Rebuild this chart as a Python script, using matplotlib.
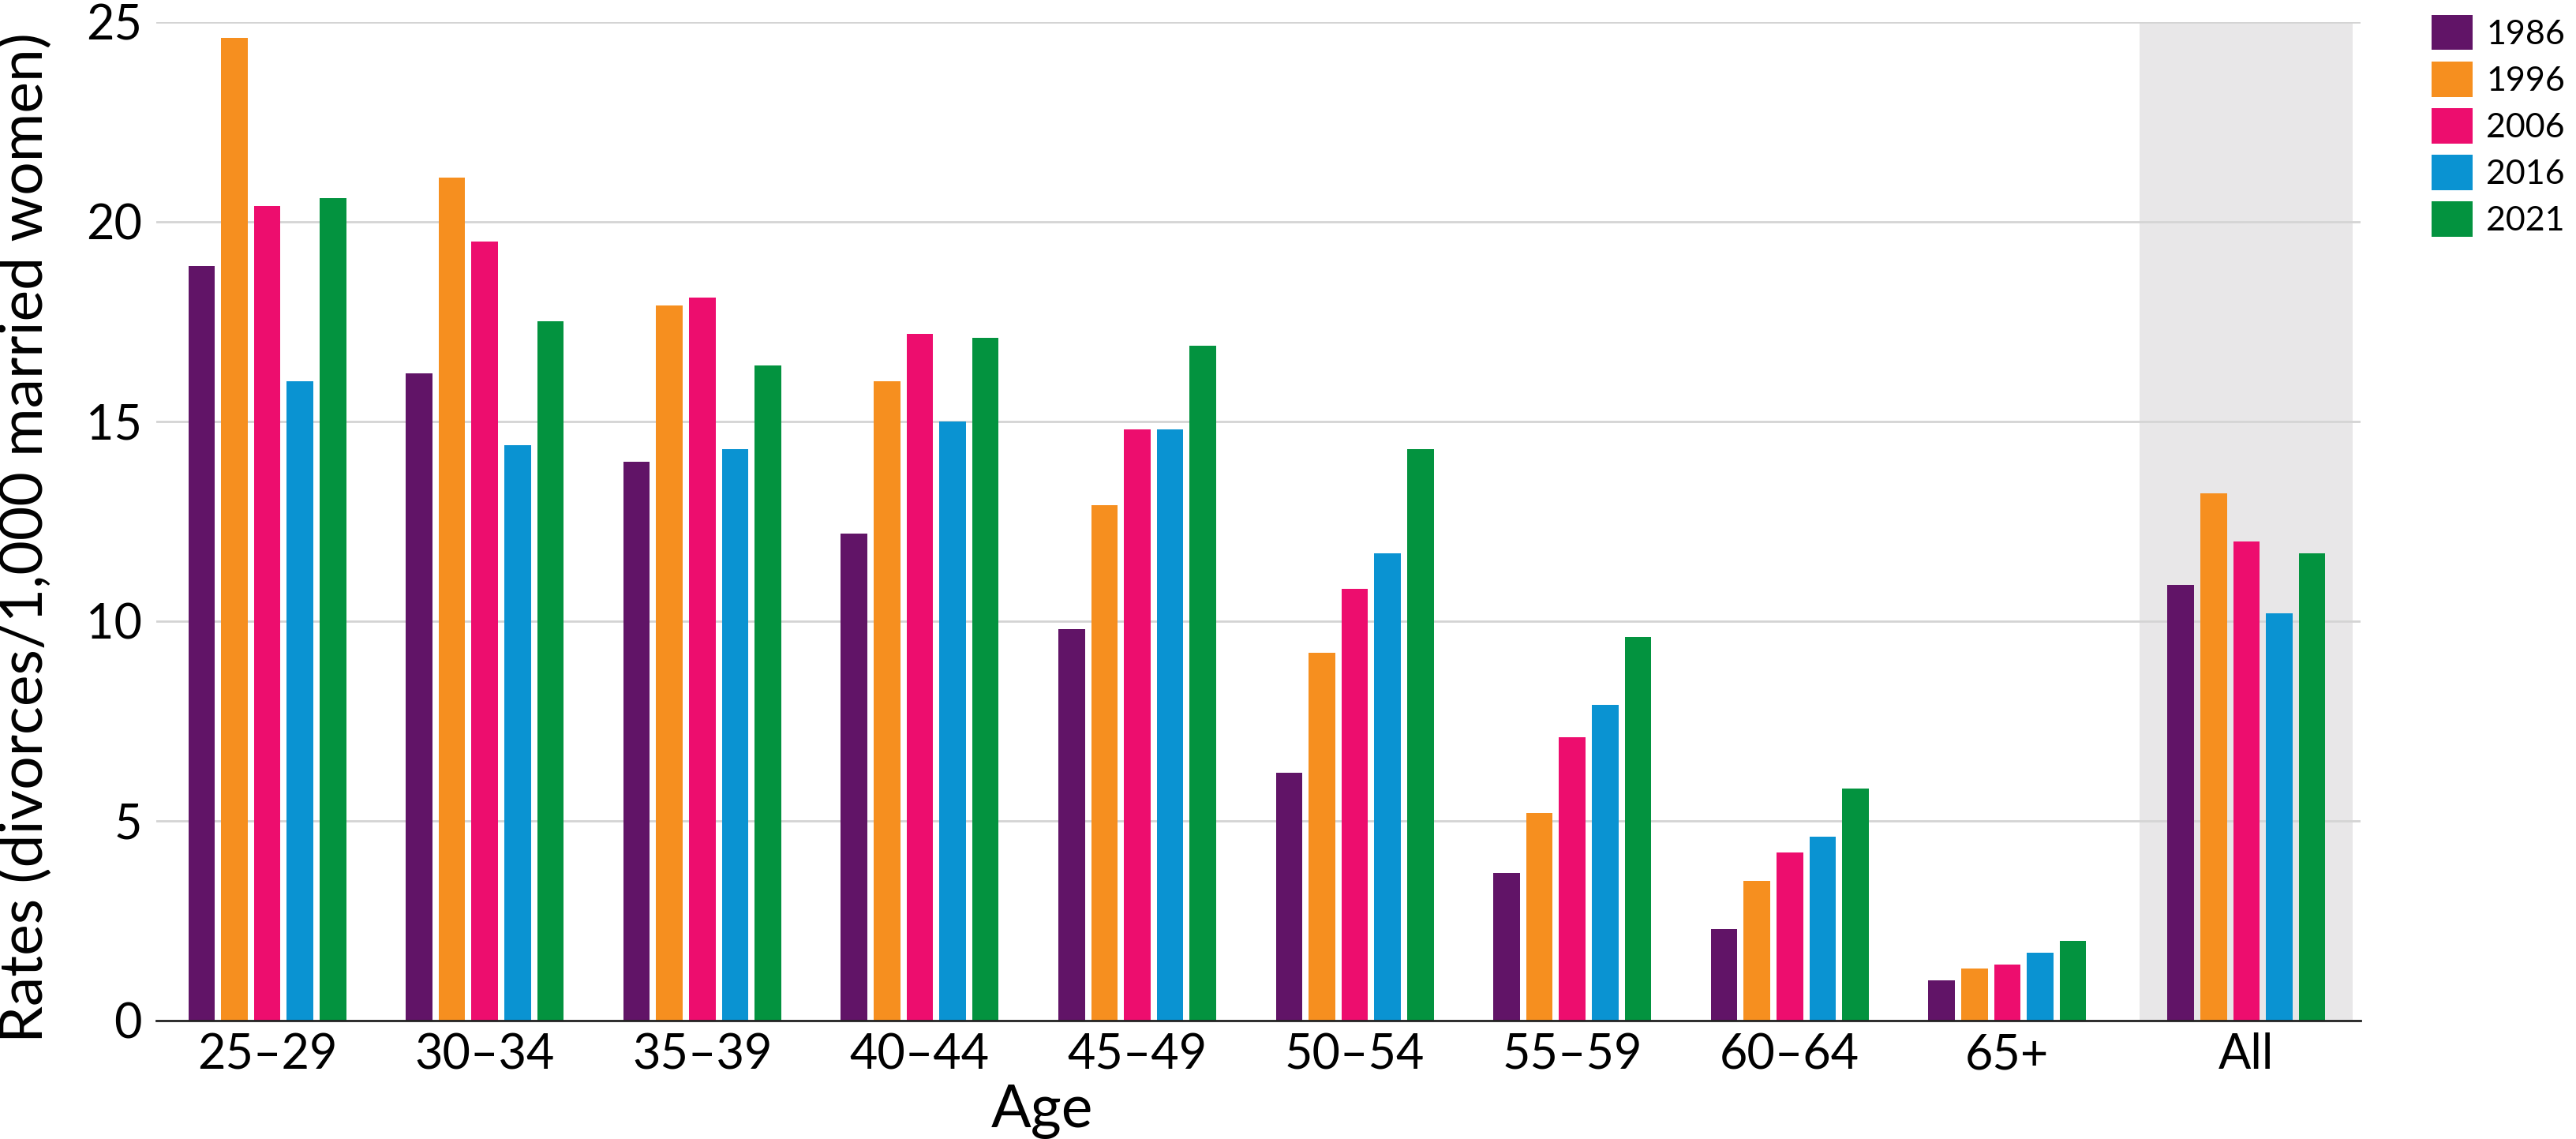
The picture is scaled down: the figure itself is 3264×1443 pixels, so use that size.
import numpy as np
import matplotlib
matplotlib.use('Agg')
import matplotlib.pyplot as plt
from matplotlib.patches import Patch

plt.rcParams['font.family'] = ['Lato', 'DejaVu Sans']

# Divorce rates per 1,000 married women, by age group
ages = ['25–29', '30–34', '35–39', '40–44', '45–49', '50–54', '55–59', '60–64', '65+', 'All']
years = ['1986', '1996', '2006', '2016', '2021']
rates_1986 = [18.9, 16.2, 14.0, 12.2, 9.8, 6.2, 3.7, 2.3, 1.0, 10.9]
rates_1996 = [24.6, 21.1, 17.9, 16.0, 12.9, 9.2, 5.2, 3.5, 1.3, 13.2]
rates_2006 = [20.4, 19.5, 18.1, 17.2, 14.8, 10.8, 7.1, 4.2, 1.4, 12.0]
rates_2016 = [16.0, 14.4, 14.3, 15.0, 14.8, 11.7, 7.9, 4.6, 1.7, 10.2]
rates_2021 = [20.6, 17.5, 16.4, 17.1, 16.9, 14.3, 9.6, 5.8, 2.0, 11.7]
colors = ['#611467', '#F68F1F', '#ED0D6E', '#0A93D2', '#03933F']

series = [rates_1986, rates_1996, rates_2006, rates_2016, rates_2021]

# group positions: the "All" group sits a little further right
x = np.arange(len(ages), dtype=float)
x[-1] = 9.1

bar_w = 0.122
pitch = 0.151

fig = plt.figure(figsize=(32.64, 14.43), dpi=100)
ax = fig.add_axes([0.0607, 0.104, 0.8557, 0.8766])

# shaded background behind the "All" group
ax.axvspan(x[-1] - 0.49, x[-1] + 0.49, ymin=0, ymax=1, color='#E8E7E8', zorder=0, lw=0)

for i, (vals, col, yr) in enumerate(zip(series, colors, years)):
    offs = (i - 2) * pitch
    ax.bar(x + offs, vals, width=bar_w, color=col, label=yr, zorder=3, lw=0)

ax.set_xlim(-0.51, 9.625)
ax.set_ylim(0, 25)
ax.set_yticks([0, 5, 10, 15, 20, 25])
ax.yaxis.grid(True, color='#D4D4D4', lw=2, zorder=1)
ax.set_axisbelow(True)

ax.set_xticks(x)
ax.set_xticklabels(ages)
ax.tick_params(axis='both', length=0, labelsize=44)
ax.tick_params(axis='x', pad=11)
ax.tick_params(axis='y', pad=13)

for s in ['top', 'right', 'left']:
    ax.spines[s].set_visible(False)
ax.spines['bottom'].set_color('#222222')
ax.spines['bottom'].set_linewidth(2)
ax.spines['bottom'].set_zorder(4)

ax.set_ylabel('Rates (divorces/1,000 married women)', fontsize=54)
ax.yaxis.set_label_coords(-0.047, 0.484)
ax.set_xlabel('Age', fontsize=54)
ax.xaxis.set_label_coords(0.402, -0.064)

handles = [Patch(facecolor=c, edgecolor='none') for c in colors]
fig.legend(handles, years, loc='upper left', bbox_to_anchor=(0.9439, 0.9868),
           frameon=False, fontsize=31, handlelength=1.21, handleheight=1.21,
           labelspacing=0.34, handletextpad=0.4, borderpad=0, borderaxespad=0)

fig.savefig('out.png', dpi=100)
